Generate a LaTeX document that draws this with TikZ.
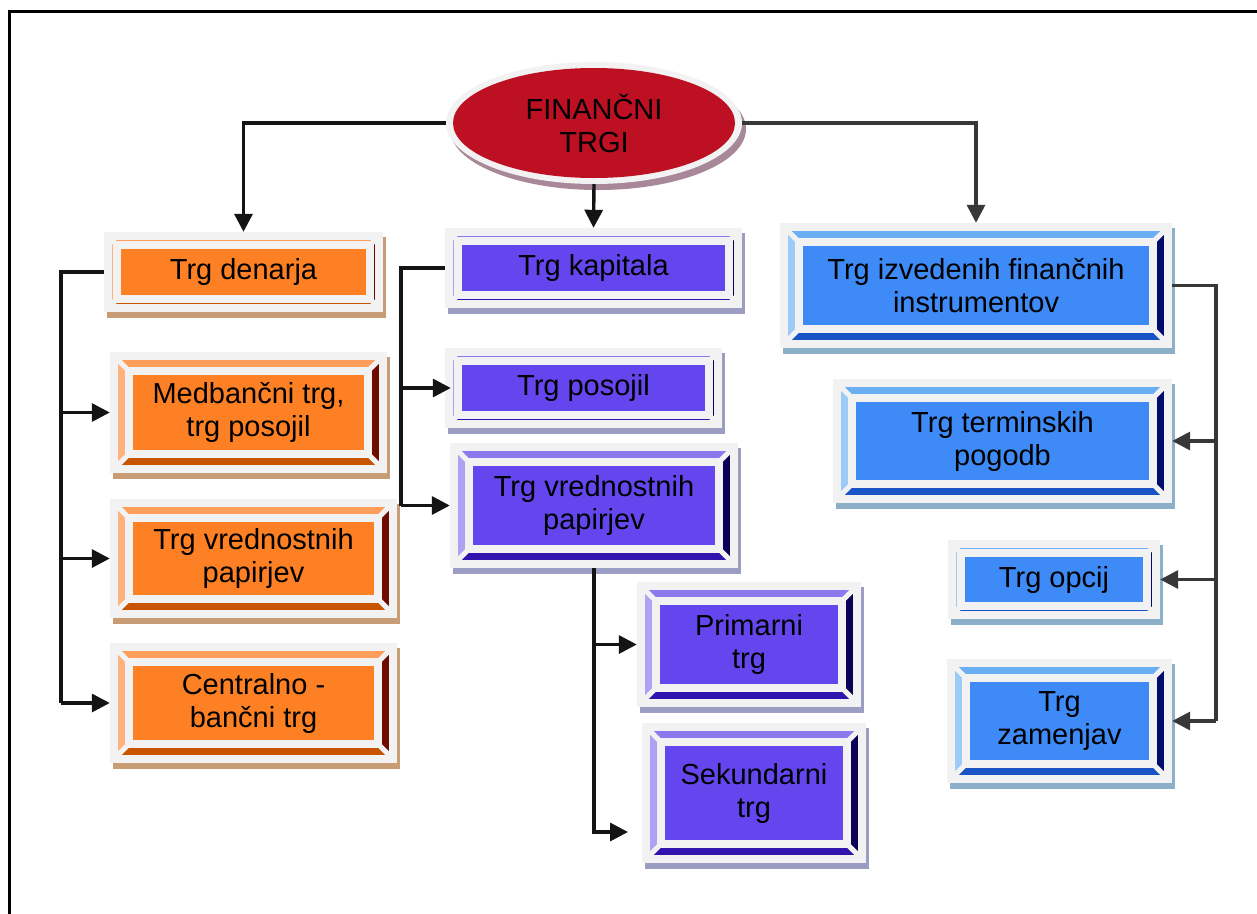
\documentclass[tikz,border=0pt]{standalone}
\usepackage{fontspec}
\setmainfont{Liberation Sans}
\usetikzlibrary{arrows.meta,calc,shapes.geometric}
\definecolor{frameG}{HTML}{F2F2F2}
\definecolor{orFace}{HTML}{FD8124}
\definecolor{orTop}{HTML}{FF9E5A}
\definecolor{orLft}{HTML}{FFB27D}
\definecolor{orRgt}{HTML}{6E0C00}
\definecolor{orBot}{HTML}{C85400}
\definecolor{orSh}{HTML}{C89C74}
\definecolor{puFace}{HTML}{6446EF}
\definecolor{puTop}{HTML}{8D78F0}
\definecolor{puLft}{HTML}{AEA2F2}
\definecolor{puRgt}{HTML}{0A0055}
\definecolor{puBot}{HTML}{2F14AE}
\definecolor{puSh}{HTML}{9B9EC2}
\definecolor{blFace}{HTML}{3E8AF6}
\definecolor{blTop}{HTML}{6AAEF4}
\definecolor{blLft}{HTML}{9CCBF7}
\definecolor{blRgt}{HTML}{000C6E}
\definecolor{blBot}{HTML}{1953C6}
\definecolor{blSh}{HTML}{8CB0C8}
\definecolor{elRed}{HTML}{BE1023}
\definecolor{elSh}{HTML}{A88898}
\definecolor{lineK}{HTML}{141414}
\definecolor{lineG}{HTML}{383838}
\tikzset{
  boxtext/.style={inner sep=0pt, align=center, text=black,
    font=\fontsize{29}{33}\selectfont},
  conn/.style={line width=3.4pt, draw=lineK, -{Triangle[length=18pt,width=18pt]}},
  connR/.style={conn, draw=lineG, -{Triangle[length=18pt,width=18pt,fill=lineG]}},
  plain/.style={line width=3.4pt, draw=lineK},
  plainR/.style={plain, draw=lineG}
}
\newcommand\bevbox[8]{%
  \pgfmathsetmacro\ax{#2+4}\pgfmathsetmacro\ay{#3+4}%
  \pgfmathsetmacro\bx{#4-4}\pgfmathsetmacro\by{#5-4}%
  \pgfmathsetmacro\cx{\ax+#6}\pgfmathsetmacro\cy{\ay+#6}%
  \pgfmathsetmacro\ex{\bx-#6}\pgfmathsetmacro\ey{\by-#6}%
  \pgfmathsetmacro\mx{(#2+#4)/2}\pgfmathsetmacro\my{(#3+#5)/2}%
  \pgfmathsetmacro\ww{#4-#2}\pgfmathsetmacro\hh{#5-#3}%
  \fill[#7Sh] (#2+3,#3+5) rectangle (#4+3,#5+6);
  \fill[frameG] (#2,#3) rectangle (#4,#5);
  \fill[#7Top] (\ax,\ay)--(\bx,\ay)--(\ex,\cy)--(\cx,\cy)--cycle;
  \fill[#7Bot] (\ax,\by)--(\bx,\by)--(\ex,\ey)--(\cx,\ey)--cycle;
  \fill[#7Lft] (\ax,\ay)--(\cx,\cy)--(\cx,\ey)--(\ax,\by)--cycle;
  \fill[#7Rgt] (\bx,\ay)--(\ex,\cy)--(\ex,\ey)--(\bx,\by)--cycle;
  \fill[#7Face] (\cx,\cy) rectangle (\ex,\ey);
  \draw[frameG, line width=8pt] (\ax,\ay) rectangle (\bx,\by);
  \draw[frameG, line width=7.5pt] (\cx,\cy) rectangle (\ex,\ey);
  \draw[frameG, line width=5pt] (\ax,\ay)--(\cx,\cy) (\bx,\ay)--(\ex,\cy)
     (\ax,\by)--(\cx,\ey) (\bx,\by)--(\ex,\ey);
  \node[boxtext, minimum width=\ww pt, minimum height=\hh pt] (#1) at (\mx,\my) {#8};
}
\begin{document}
\begin{tikzpicture}[x=1pt,y=-1pt]
\useasboundingbox (0,0) rectangle (1257,913);
\clip (0,0) rectangle (1257,913);
\fill[white] (0,0) rectangle (1257,913);
% frame
\draw[line width=2.7pt, black] (9.5,930) -- (9.5,11.7) -- (1280,11.7);

% root ellipse
\fill[elSh] (598,129) ellipse [x radius=148, y radius=61];
\fill[frameG] (594,123) ellipse [x radius=148, y radius=61];
\fill[elRed] (594,123) ellipse [x radius=141, y radius=55];
\node[boxtext, ellipse, minimum width=296pt, minimum height=122pt] (root) at (594,123) {FINANČNI\\TRGI};

% left column (orange)
\bevbox{den}{104}{232}{383}{312}{9}{or}{Trg denarja}
\bevbox{med}{110}{352}{387}{473}{15}{or}{Medbančni trg,\\trg posojil}
\bevbox{vro}{110}{499}{397}{618}{15}{or}{Trg vrednostnih\\papirjev}
\bevbox{cen}{110}{643}{397}{763}{15}{or}{Centralno -\\bančni trg}

% middle column (purple)
\bevbox{kap}{445}{228}{742}{308}{9}{pu}{Trg kapitala}
\bevbox{pos}{445}{348}{722}{428}{9}{pu}{Trg posojil}
\bevbox{vrp}{450}{443}{738}{568}{15}{pu}{Trg vrednostnih\\papirjev}
\bevbox{pri}{637}{582}{861}{707}{15}{pu}{Primarni\\trg}
\bevbox{sek}{642}{723}{866}{863}{15}{pu}{Sekundarni\\trg}

% right column (blue)
\bevbox{izv}{780}{223}{1172}{348}{15}{bl}{Trg izvedenih finančnih\\instrumentov}
\bevbox{ter}{833}{379}{1172}{503}{15}{bl}{Trg terminskih\\pogodb}
\bevbox{opc}{948}{540}{1160}{619}{9}{bl}{Trg opcij}
\bevbox{zam}{947}{659}{1172}{783}{15}{bl}{Trg\\zamenjav}

% junction coordinates
\coordinate (jL) at (61,0);
\coordinate (jM) at (401,0);
\coordinate (jR) at (1216,0);
\coordinate (sekIn) at (628,832);

% top connectors
\draw[conn] (root.west) -| (den.north);
\draw[conn] (root.south) -- (kap.north);
\draw[connR] (root.east) -| (izv.north);

% left tree
\draw[plain] (den.west) -- (den.west -| jL) -- (jL |- cen.west);
\draw[conn] (jL |- med.west) -- (med.west);
\draw[conn] (jL |- vro.west) -- (vro.west);
\draw[conn] (jL |- cen.west) -- (cen.west);

% middle tree
\draw[plain] (kap.west) -- (kap.west -| jM) -- (jM |- vrp.west);
\draw[conn, shorten >=-6pt] (jM |- pos.west) -- (pos.west);
\draw[conn] (jM |- vrp.west) -- (vrp.west);
\draw[conn] (vrp.south) |- (sekIn);
\draw[conn] (vrp.south |- pri.west) -- (pri.west);

% right tree
\draw[plainR] (izv.east) -- (izv.east -| jR) -- (jR |- zam.east);
\draw[connR] (jR |- ter.east) -- (ter.east);
\draw[connR] (jR |- opc.east) -- (opc.east);
\draw[connR] (jR |- zam.east) -- (zam.east);
\end{tikzpicture}
\end{document}
